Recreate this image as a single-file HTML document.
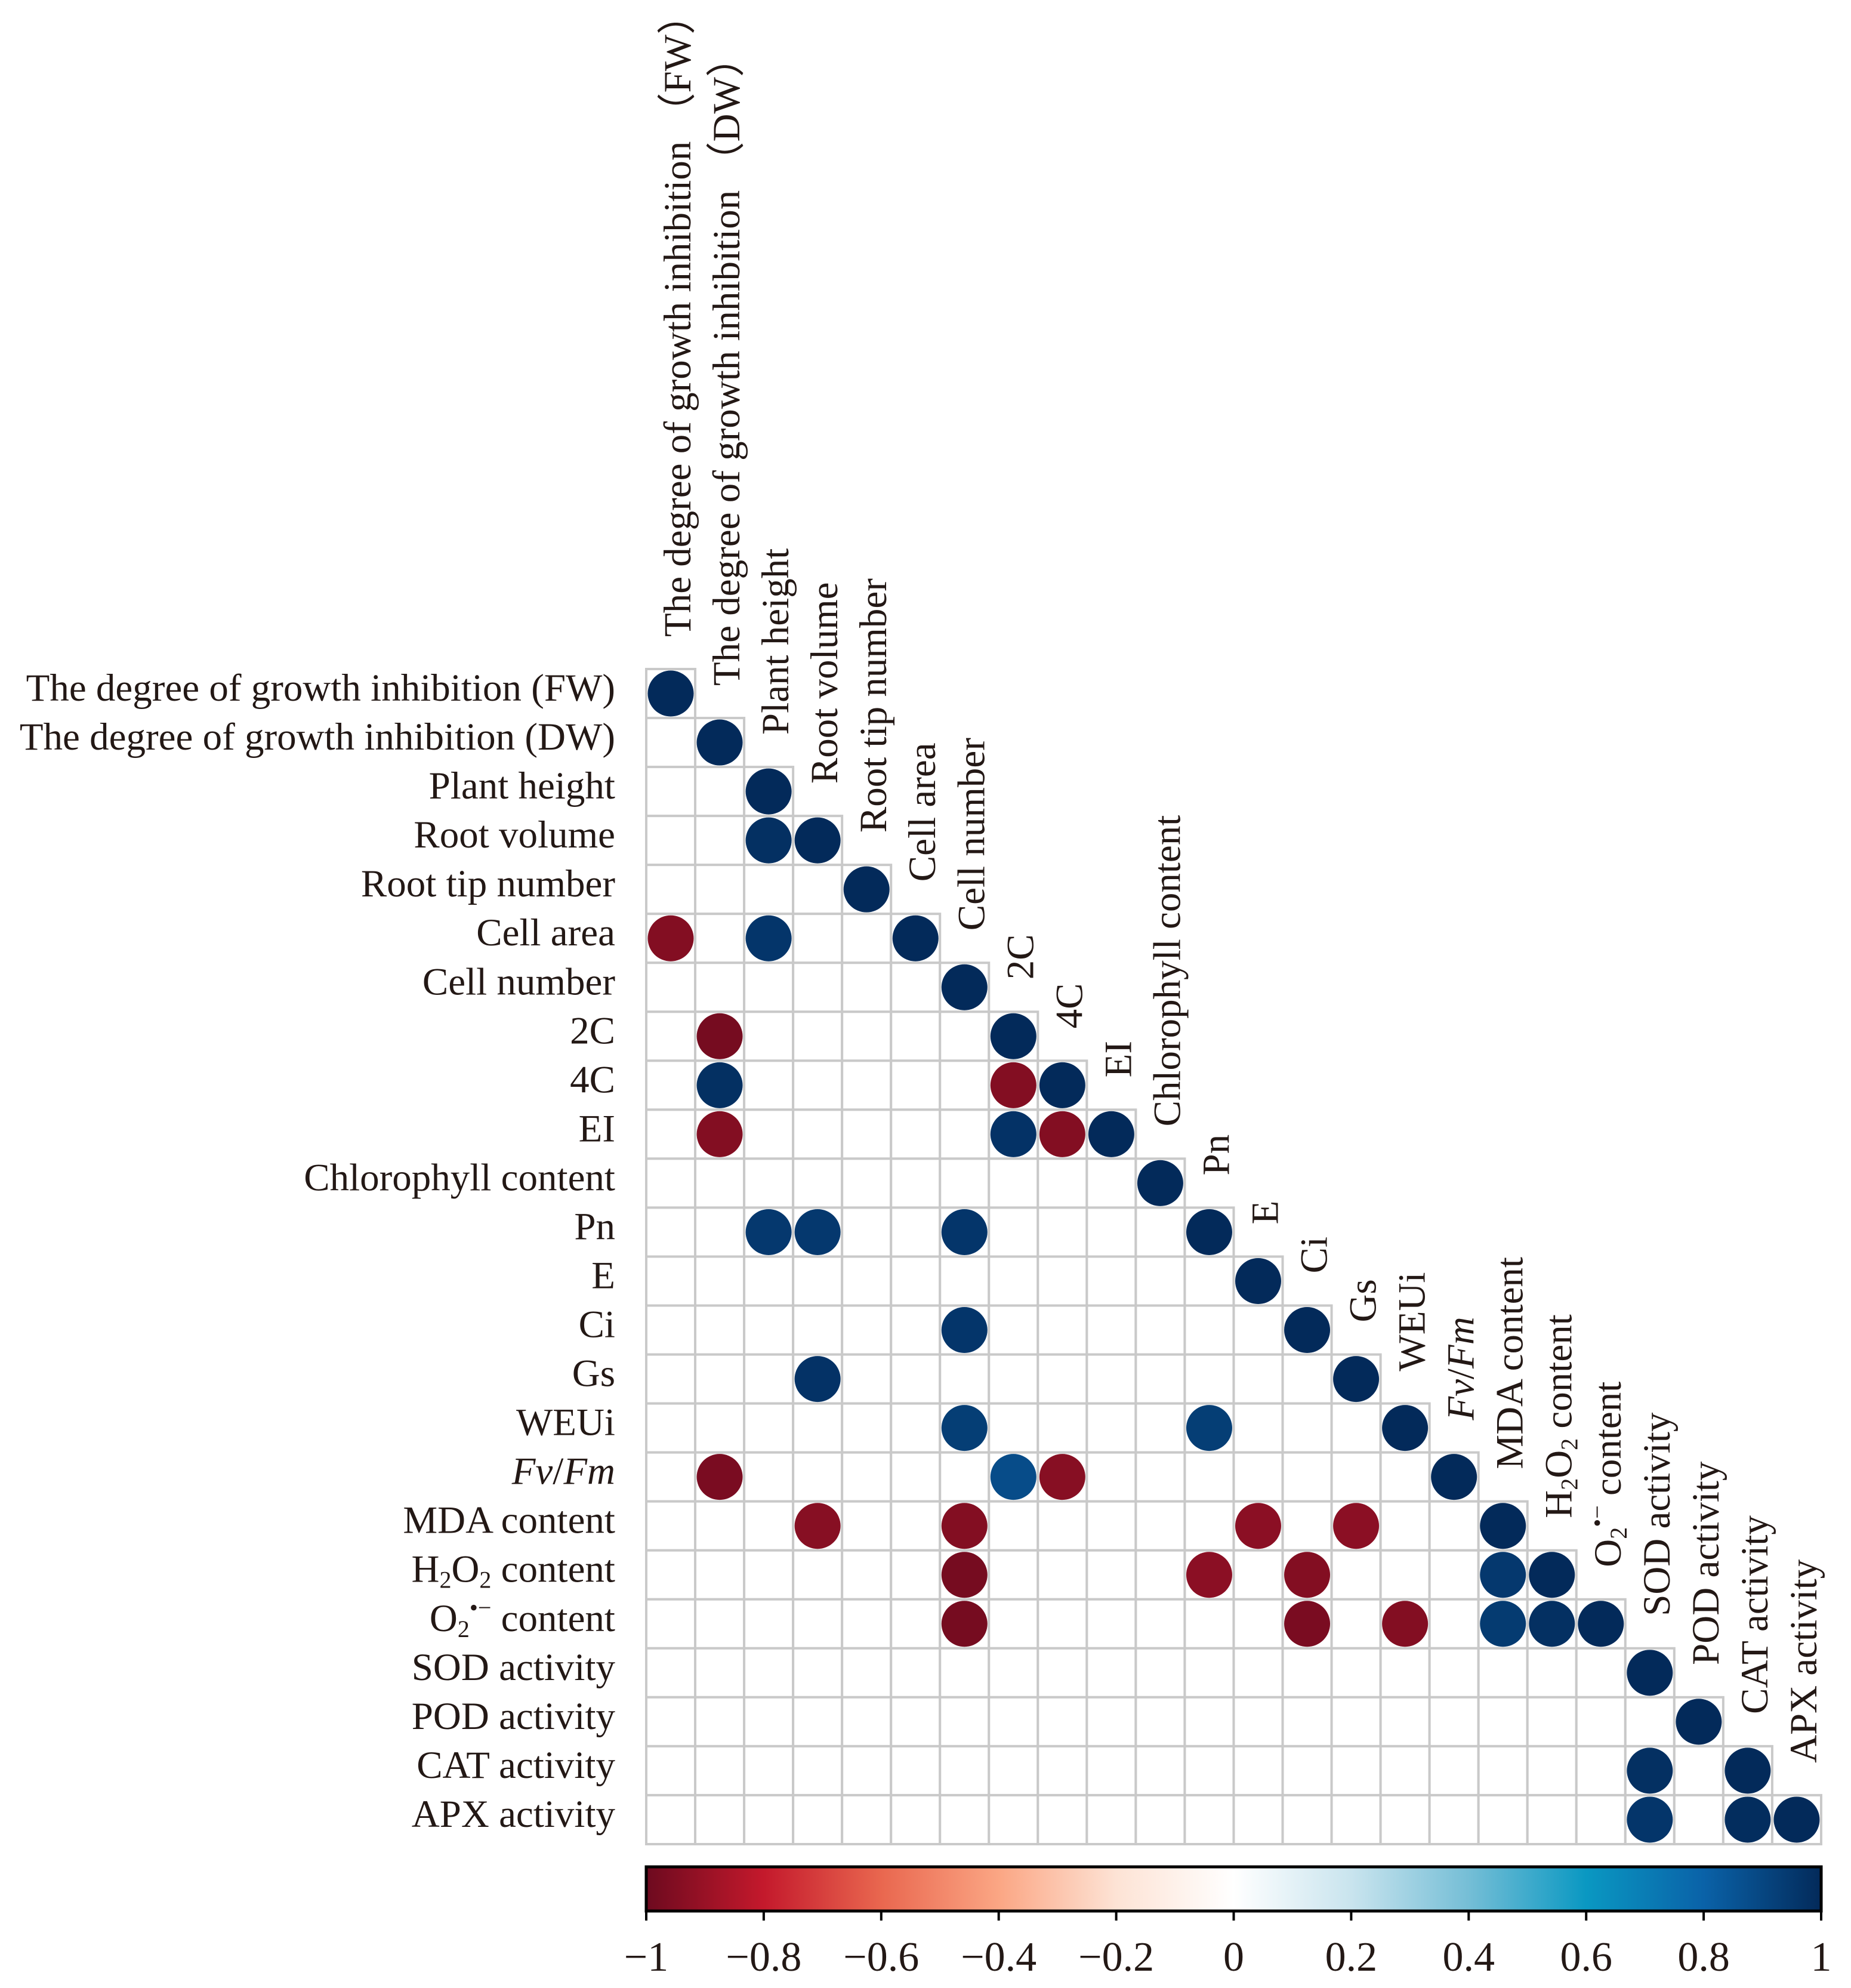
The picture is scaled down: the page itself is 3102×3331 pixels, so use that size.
<!DOCTYPE html>
<html><head><meta charset="utf-8">
<style>
html,body{margin:0;padding:0;background:#fff;}
svg{display:block;}
text{font-family:"Liberation Serif",serif;fill:#231815;}
</style></head>
<body>
<svg id="chart" width="3102" height="3331" viewBox="0 0 3102 3331" xmlns="http://www.w3.org/2000/svg">
<defs>
<linearGradient id="cbgrad" x1="0" x2="1" y1="0" y2="0">
<stop offset="0" stop-color="#6d0a1f"/>
<stop offset="0.1" stop-color="#c4192c"/>
<stop offset="0.2" stop-color="#e9674f"/>
<stop offset="0.3" stop-color="#fba684"/>
<stop offset="0.4" stop-color="#fde3d5"/>
<stop offset="0.5" stop-color="#ffffff"/>
<stop offset="0.6" stop-color="#c9e4ee"/>
<stop offset="0.7" stop-color="#75bed6"/>
<stop offset="0.8" stop-color="#0a98c2"/>
<stop offset="0.9" stop-color="#0a62a8"/>
<stop offset="1" stop-color="#032a5a"/>
</linearGradient>
</defs>
<g id="grid"></g>
<g id="marks"></g>
<g id="rowlabels"></g>
<g id="collabels"></g>
<g id="colorbar"></g>
</svg>
<script>
const variables = ["The degree of growth  inhibition (FW)","The degree of growth  inhibition (DW)","Plant height","Root volume","Root tip number","Cell area","Cell number","2C","4C","EI","Chlorophyll content","Pn","E","Ci","Gs","WEUi","FVFM","MDA content","H2O2 content","O2 content","SOD activity","POD activity","CAT activity","APX activity"];
const colVariables = ["The degree of growth  inhibition （FW）","The degree of growth  inhibition （DW）","Plant height","Root volume","Root tip number","Cell area","Cell number","2C","4C","EI","Chlorophyll content","Pn","E","Ci","Gs","WEUi","FVFM","MDA content","H2O2 content","O2 content","SOD activity","POD activity","CAT activity","APX activity"];
const corrRows = [0,1,2,3,3,4,5,5,5,6,7,7,8,8,8,9,9,9,9,10,11,11,11,11,12,13,13,14,14,15,15,15,16,16,16,16,17,17,17,17,17,18,18,18,18,18,19,19,19,19,19,19,20,21,22,22,23,23,23];
const corrCols = [0,1,2,2,3,4,0,2,5,6,1,7,1,7,8,1,7,8,9,10,2,3,6,11,12,6,13,3,14,6,11,15,1,7,8,16,3,6,12,14,17,6,11,13,17,18,6,13,15,17,18,19,20,21,20,22,20,22,23];
const corrValues = [1,1,1,0.98,1,1,-0.95,0.96,1,1,-0.98,1,0.98,-0.95,1,-0.95,0.97,-0.95,1,1,0.95,0.95,0.96,1,1,0.96,1,0.97,1,0.93,0.93,1,-0.97,0.88,-0.94,1,-0.94,-0.95,-0.93,-0.93,1,-0.98,-0.93,-0.95,0.95,1,-0.98,-0.97,-0.95,0.94,0.98,1,1,1,0.98,1,0.96,0.99,1];
const tickValues = [-1,-0.8,-0.6,-0.4,-0.2,0,0.2,0.4,0.6,0.8,1];
const tickLabels = ["−1","−0.8","−0.6","−0.4","−0.2","0","0.2","0.4","0.6","0.8","1"];

const NS="http://www.w3.org/2000/svg";
const X0=1083, Y0=1121, CELL=82.04, N=variables.length;
const CB_X0=1083, CB_X1=3052, CB_Y0=3128, CB_Y1=3202;
function xScale(j){return X0+(j+0.5)*CELL;}
function yScale(i){return Y0+(i+0.5)*CELL;}
function cbScale(v){return CB_X0+(v+1)/2*(CB_X1-CB_X0);}
const stops=[[-1,[109,10,31]],[-0.8,[196,25,44]],[-0.6,[233,103,79]],[-0.4,[251,166,132]],[-0.2,[253,227,213]],[0,[255,255,255]],[0.2,[201,228,238]],[0.4,[117,190,214]],[0.6,[10,152,194]],[0.8,[10,98,168]],[1,[3,42,90]]];
function colorOf(v){
  for(let k=0;k<stops.length-1;k++){
    const a=stops[k],b=stops[k+1];
    if(v>=a[0]&&v<=b[0]){const t=(v-a[0])/(b[0]-a[0]);
      const c=a[1].map((x,m)=>Math.round(x+(b[1][m]-x)*t));return `rgb(${c[0]},${c[1]},${c[2]})`;}
  }
  return v<0?"rgb(109,10,31)":"rgb(3,42,90)";
}
function mk(tag,attrs,parent){const e=document.createElementNS(NS,tag);for(const k in attrs)e.setAttribute(k,attrs[k]);if(parent)parent.appendChild(e);return e;}

const grid=document.getElementById('grid');
for(let i=0;i<N;i++){for(let j=0;j<=i;j++){
  const r=mk('rect',{x:X0+j*CELL,y:Y0+i*CELL,width:CELL,height:CELL,fill:'#fff',stroke:'#c9c9c9','stroke-width':4},grid);
  
  
}}
const marks=document.getElementById('marks');
for(let k=0;k<corrValues.length;k++){
  const c=mk('circle',{cx:xScale(corrCols[k]),cy:yScale(corrRows[k]),r:38.5,fill:colorOf(corrValues[k])},marks);
  
  
}
function fillLabel(t,name){
  if(name==="FVFM"){
    mk('tspan',{'font-style':'italic'},t).textContent="Fv";
    mk('tspan',{},t).textContent="/";
    mk('tspan',{'font-style':'italic'},t).textContent="Fm";
  } else if(name==="H2O2 content"){
    mk('tspan',{},t).textContent="H";
    mk('tspan',{'font-size':40,dy:10},t).textContent="2";
    mk('tspan',{dy:-10},t).textContent="O";
    mk('tspan',{'font-size':40,dy:10},t).textContent="2";
    mk('tspan',{dy:-10},t).textContent=" content";
  } else if(name==="O2 content"){
    mk('tspan',{},t).textContent="O";
    mk('tspan',{'font-size':40,dy:10},t).textContent="2";
    mk('tspan',{'font-size':40,dy:-36},t).textContent="•−";
    mk('tspan',{dy:26},t).textContent=" content";
  } else t.textContent=name;
}
const rl=document.getElementById('rowlabels');
for(let i=0;i<N;i++){
  const t=mk('text',{x:1031,y:yScale(i)+12,'text-anchor':'end','font-size':65},rl);
  
  
  fillLabel(t,variables[i]);
}
const cl=document.getElementById('collabels');
for(let j=0;j<N;j++){
  const x=xScale(j)+33, y=Y0+j*CELL-54;
  const t=mk('text',{x:0,y:0,transform:`translate(${x},${y}) rotate(-90)`,'font-size':65},cl);
  
  
  fillLabel(t,colVariables[j]);
}
const cb=document.getElementById('colorbar');
const bar=mk('rect',{x:CB_X0,y:CB_Y0,width:CB_X1-CB_X0,height:CB_Y1-CB_Y0,fill:'url(#cbgrad)',stroke:'#000','stroke-width':5},cb);


for(let k=0;k<tickValues.length;k++){
  const x=cbScale(tickValues[k]);
  const l=mk('line',{x1:x,x2:x,y1:CB_Y1,y2:CB_Y1+16,stroke:'#000','stroke-width':4},cb);
  
  
  const t=mk('text',{x:x,y:3302,'text-anchor':'middle','font-size':70,fill:'#000'},cb);
  
  
  t.textContent=tickLabels[k];
}
</script>
</body></html>
